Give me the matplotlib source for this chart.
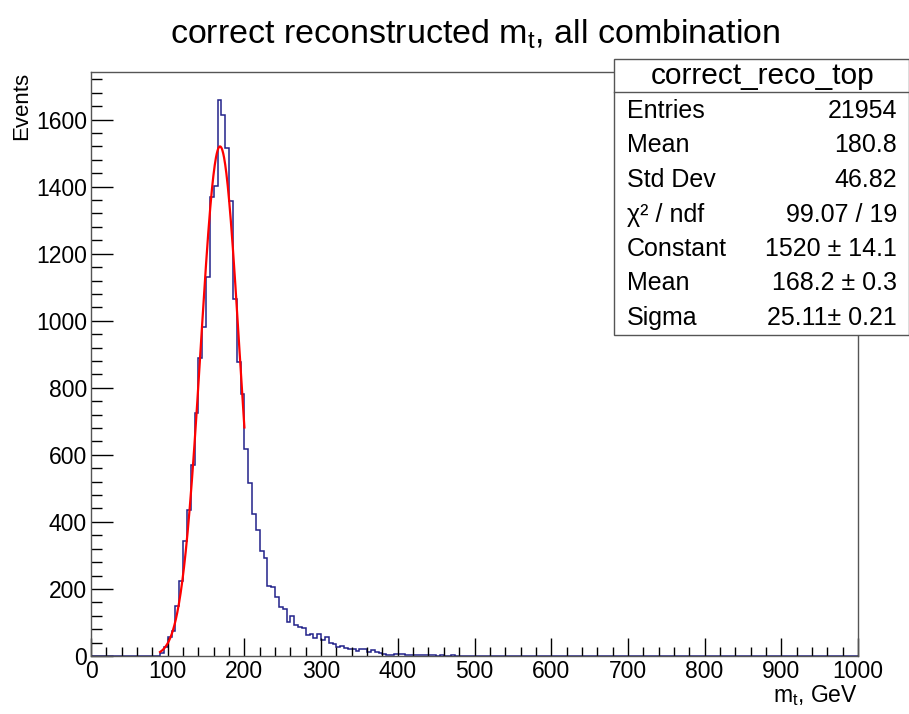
#!/usr/bin/env python

import numpy as np
import matplotlib
matplotlib.use("Agg")
import matplotlib.pyplot as plt
from matplotlib.patches import Rectangle
from matplotlib.lines import Line2D
from matplotlib.ticker import MultipleLocator

plt.rcParams['font.family'] = ['Liberation Sans', 'DejaVu Sans']
plt.rcParams['mathtext.fontset'] = 'custom'
plt.rcParams['mathtext.rm'] = 'Liberation Sans'
plt.rcParams['mathtext.it'] = 'Liberation Sans'

# 200 bins of 5 GeV from 0 to 1000
bin_edges = np.linspace(0, 1000, 201)
counts_0_100 = [0]*18 + [8, 28]
counts_100_200 = [57, 74, 149, 224, 343, 436, 570, 724, 889, 982,
                  1130, 1368, 1401, 1659, 1613, 1516, 1358, 1066, 876, 780]
counts_200_300 = [617, 517, 423, 375, 313, 293, 210, 207, 175, 147,
                  140, 101, 120, 91, 87, 83, 62, 67, 55, 65]
counts_300_400 = [49, 57, 38, 36, 26, 30, 23, 22, 20, 15,
                  20, 20, 12, 18, 12, 8, 6, 4, 4, 5]
counts_400_500 = [5, 6, 4, 4, 3, 3, 2, 2, 3, 2, 1, 2, 1, 1, 2, 1, 1, 0, 1, 1]
counts_500_600 = [1, 0, 1, 0, 0, 0, 0, 0, 1, 1, 0, 0, 0, 1, 1, 1, 0, 0, 0, 0]
counts_600_700 = [0, 1, 0, 0, 0, 1, 1, 0, 0, 0, 0, 1, 0, 0, 0, 0, 0, 0, 0, 0]
counts_700_800 = [0, 1, 1, 0, 0, 0, 0, 0, 0, 0, 0, 0, 0, 0, 0, 0, 0, 0, 0, 0]
counts_800_900 = [0]*16 + [1, 0, 0, 0]
counts_900_1000 = [0]*9 + [1] + [0]*10
counts = np.array(counts_0_100 + counts_100_200 + counts_200_300 + counts_300_400
                  + counts_400_500 + counts_500_600 + counts_600_700
                  + counts_700_800 + counts_800_900 + counts_900_1000)

# gaussian fit parameters (from stats box)
fit_const, fit_mean, fit_sigma = 1520, 168.2, 25.11
fit_range = (90, 200)

stat_labels = ["Entries", "Mean", "Std Dev", "\u03c7\u00b2 / ndf", "Constant", "Mean", "Sigma"]
stat_values = ["21954", "180.8", "46.82", "99.07 / 19",
               "1520 \u00b1 14.1", "168.2 \u00b1 0.3", "25.11\u00b1 0.21"]

W, H = 909, 714
fig = plt.figure(figsize=(W/100, H/100), dpi=100)
ax = fig.add_axes([91/W, 1 - 656/H, (858 - 91)/W, (656 - 72)/H])

ax.stairs(counts, bin_edges, color='#22228a', lw=1.1)
xf = np.linspace(fit_range[0], fit_range[1], 300)
ax.plot(xf, fit_const*np.exp(-0.5*((xf - fit_mean)/fit_sigma)**2), color='#ff0000', lw=1.6)

ax.set_xlim(0, 1000)
ax.set_ylim(0, 1.05*counts.max())
ax.xaxis.set_major_locator(MultipleLocator(100))
ax.xaxis.set_minor_locator(MultipleLocator(20))
ax.yaxis.set_major_locator(MultipleLocator(200))
ax.yaxis.set_minor_locator(MultipleLocator(40))
ax.tick_params(axis='both', which='both', direction='in', labelsize=16.5, width=1.0)
ax.tick_params(axis='x', which='major', length=13, pad=3)
ax.tick_params(axis='x', which='minor', length=6.5)
ax.tick_params(axis='y', which='major', length=16, pad=3)
ax.tick_params(axis='y', which='minor', length=8)
for s in ax.spines.values():
    s.set_color('#555555')
    s.set_linewidth(1.0)

ax.set_xlabel("m$_t$, GeV", fontsize=16.5, loc='right', labelpad=0)
ax.set_ylabel("Events", fontsize=16, loc='top', labelpad=3)

fig.text(475/W, 1 - 34/H, "correct reconstructed m$_t$, all combination",
         ha='center', va='center', fontsize=24.5)

# stats box
bx0, bx1, by0, by1 = 614, 909, 59, 335
fig.patches.append(Rectangle((bx0/W, 1 - by1/H), (bx1 - bx0)/W, (by1 - by0)/H,
                             transform=fig.transFigure, facecolor='white',
                             edgecolor='#555555', lw=1.0, zorder=5))
fig.lines.append(Line2D([bx0/W, bx1/W], [1 - 92/H, 1 - 92/H],
                        transform=fig.transFigure, color='#555555', lw=1.0, zorder=6))
fig.text(763/W, 1 - 76/H, "correct_reco_top", ha='center', va='center',
         fontsize=21.5, zorder=7)
for i, (lab, val) in enumerate(zip(stat_labels, stat_values)):
    y = 1 - (111 + i*34.5)/H
    fig.text(627/W, y, lab, ha='left', va='center', fontsize=18, zorder=7)
    fig.text(897/W, y, val, ha='right', va='center', fontsize=18, zorder=7)

plt.savefig("out.png", dpi=100)
plt.close(fig)
